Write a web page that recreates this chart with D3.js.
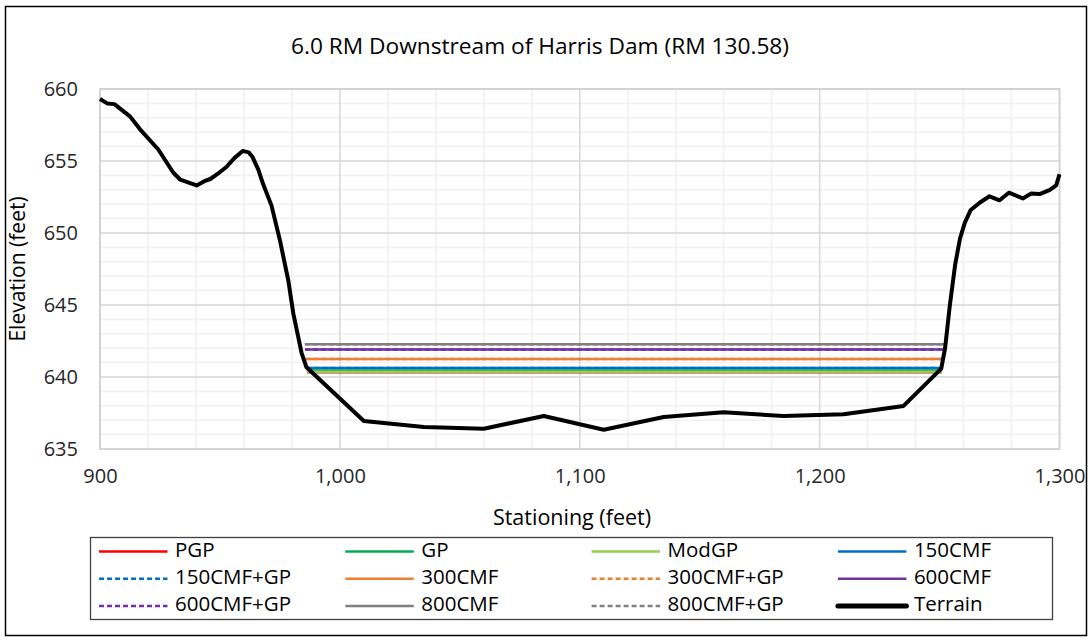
<!DOCTYPE html>
<html>
<head>
<meta charset="utf-8">
<script src="https://cdn.jsdelivr.net/npm/d3@7"></script>
<style>
  html, body { margin: 0; padding: 0; background: #fff; }
  svg { display: block; font-family: "Open Sans", "Noto Sans", sans-serif; }
</style>
</head>
<body>
<svg id="chart" width="1092" height="641"></svg>
<script>
// Cross-section terrain at 6.0 RM downstream of Harris Dam
const terrainStation = [900, 903, 906, 912.5, 916.7, 924.3, 930.5, 933.5, 937, 940.3, 943.5, 946, 949, 952.8, 956, 959.5, 962, 963.5, 966, 968, 971.5, 975, 978.5, 980.6, 984, 986,
  1010, 1035, 1060, 1085, 1110, 1135, 1160, 1185, 1210, 1235, 1250.7, 1252.3, 1254.3, 1256.5, 1258.5, 1260.5, 1263, 1266.7, 1270.8, 1275, 1278.9, 1284.7, 1288.2, 1291.7, 1296, 1298.6, 1300];
const terrainElev = [659.3, 659.0, 658.95, 658.1, 657.2, 655.8, 654.2, 653.7, 653.5, 653.3, 653.6, 653.75, 654.1, 654.6, 655.2, 655.7, 655.6, 655.3, 654.4, 653.4, 651.9, 649.5, 646.7, 644.4, 641.7, 640.7,
  636.95, 636.53, 636.41, 637.29, 636.34, 637.22, 637.55, 637.29, 637.41, 637.99, 640.58, 642.0, 645.0, 647.8, 649.6, 650.7, 651.6, 652.1, 652.55, 652.27, 652.8, 652.4, 652.74, 652.7, 653.0, 653.3, 654.08];

// Water surface profiles (series drawn in this order)
const seriesNames  = ["PGP", "GP", "ModGP", "150CMF", "150CMF+GP", "300CMF", "300CMF+GP", "600CMF", "600CMF+GP", "800CMF", "800CMF+GP"];
const seriesElev   = [640.33, 640.46, 640.36, 640.63, 640.63, 641.25, 641.25, 641.91, 641.91, 642.27, 642.27];
const seriesStart  = [986.3, 986.2, 986.3, 986.0, 986.0, 985.7, 985.7, 985.5, 985.5, 985.4, 985.4];
const seriesEnd    = [1251.0, 1251.1, 1251.0, 1251.2, 1251.2, 1251.5, 1251.5, 1251.8, 1251.8, 1252.0, 1252.0];
const seriesColor  = ["#FF0000", "#00B050", "#92D050", "#0070C0", "#0070C0", "#ED7D31", "#ED7D31", "#7030A0", "#7030A0", "#7F7F7F", "#7F7F7F"];
const seriesDashed = [false, false, false, false, true, false, true, false, true, false, true];

const xTicks = [900, 1000, 1100, 1200, 1300];
const yTicks = [635, 640, 645, 650, 655, 660];

const svg = d3.select("#chart");
const plot = { left: 100, right: 1059.5, top: 89, bottom: 449 };

// chart frame
svg.append("rect").attr("x", 5.5).attr("y", 6.5).attr("width", 1081).attr("height", 629)
  .attr("fill", "#fff").attr("stroke", "#000").attr("stroke-width", 1.5);

const x = d3.scaleLinear().domain([900, 1300]).range([plot.left, plot.right]);
const y = d3.scaleLinear().domain([635, 660]).range([plot.bottom, plot.top]);

// minor gridlines
const g = svg.append("g");
g.selectAll("line.mx").data(d3.range(900, 1301, 20)).join("line")
  .attr("x1", d => x(d)).attr("x2", d => x(d)).attr("y1", plot.top).attr("y2", plot.bottom)
  .attr("stroke", "#f0f0f0").attr("stroke-width", 1.5);
g.selectAll("line.my").data(d3.range(635, 660.5, 1)).join("line")
  .attr("y1", d => y(d)).attr("y2", d => y(d)).attr("x1", plot.left).attr("x2", plot.right)
  .attr("stroke", "#f0f0f0").attr("stroke-width", 1.5);
// major gridlines
g.selectAll("line.Mx").data(xTicks).join("line")
  .attr("x1", d => x(d)).attr("x2", d => x(d)).attr("y1", plot.top).attr("y2", plot.bottom)
  .attr("stroke", "#d9d9d9").attr("stroke-width", 1.5);
g.selectAll("line.My").data(yTicks).join("line")
  .attr("y1", d => y(d)).attr("y2", d => y(d)).attr("x1", plot.left).attr("x2", plot.right)
  .attr("stroke", "#d9d9d9").attr("stroke-width", 1.5);
// plot edges
svg.append("rect").attr("x", plot.left).attr("y", plot.top)
  .attr("width", plot.right - plot.left).attr("height", plot.bottom - plot.top)
  .attr("fill", "none").attr("stroke", "#d0d0d0").attr("stroke-width", 1.5);

// axes (labels only)
const fmt = d3.format(",");
const xAxis = svg.append("g").attr("transform", `translate(0,${plot.bottom})`)
  .call(d3.axisBottom(x).tickValues(xTicks).tickFormat(fmt).tickSize(0).tickPadding(20));
const yAxis = svg.append("g").attr("transform", `translate(${plot.left},0)`)
  .call(d3.axisLeft(y).tickValues(yTicks).tickSize(0).tickPadding(22));
[xAxis, yAxis].forEach(a => {
  a.select(".domain").remove();
  a.selectAll("text").attr("font-family", "Open Sans").attr("font-size", 20).attr("fill", "#262626");
});
xAxis.selectAll("text").attr("dy", "0.32em").attr("y", 28);

// water surface lines
const line = d3.line().x(d => x(d[0])).y(d => y(d[1]));
seriesNames.forEach((name, i) => {
  svg.append("path")
    .datum([[seriesStart[i], seriesElev[i]], [seriesEnd[i], seriesElev[i]]])
    .attr("d", line).attr("fill", "none")
    .attr("stroke", seriesColor[i]).attr("stroke-width", 2.5)
    .attr("stroke-dasharray", seriesDashed[i] ? "5,3" : null);
});

// terrain
svg.append("path")
  .datum(terrainStation.map((s, i) => [s, terrainElev[i]]))
  .attr("d", line).attr("fill", "none")
  .attr("stroke", "#000").attr("stroke-width", 4).attr("stroke-linejoin", "round");

// titles
svg.append("text").attr("x", 540).attr("y", 48).attr("text-anchor", "middle")
  .attr("dominant-baseline", "middle").attr("font-size", 22.7).attr("fill", "#000")
  .text("6.0 RM Downstream of Harris Dam (RM 130.58)");
svg.append("text").attr("x", 572).attr("y", 519).attr("text-anchor", "middle")
  .attr("dominant-baseline", "middle").attr("font-size", 21.5).attr("fill", "#000")
  .text("Stationing (feet)");
svg.append("text").attr("transform", `translate(19,${(plot.top + plot.bottom) / 2}) rotate(-90)`)
  .attr("text-anchor", "middle").attr("dominant-baseline", "middle")
  .attr("font-size", 21).attr("fill", "#000").text("Elevation (feet)");

// legend
const legendNames  = seriesNames.concat(["Terrain"]);
const legendColor  = seriesColor.concat(["#000"]);
const legendDashed = seriesDashed.concat([false]);
const legendWidth  = seriesNames.map(() => 2.5).concat([5]);
const lg = svg.append("g");
lg.append("rect").attr("x", 90.5).attr("y", 537.5).attr("width", 962).attr("height", 82)
  .attr("fill", "#fff").attr("stroke", "#404040").attr("stroke-width", 1.3);
legendNames.forEach((name, i) => {
  const col = i % 4, row = Math.floor(i / 4);
  const x0 = 99 + col * 246.3, yy = 551.5 + row * 27.2;
  lg.append("line").attr("x1", x0).attr("x2", x0 + 68.5).attr("y1", yy).attr("y2", yy)
    .attr("stroke", legendColor[i]).attr("stroke-width", legendWidth[i])
    .attr("stroke-dasharray", legendDashed[i] ? "5,3" : null)
    .attr("stroke-linecap", name === "Terrain" ? "round" : "butt");
  lg.append("text").attr("x", x0 + 76).attr("y", yy).attr("dominant-baseline", "middle")
    .attr("font-size", 20.5).attr("fill", "#000").text(name);
});
</script>
</body>
</html>
